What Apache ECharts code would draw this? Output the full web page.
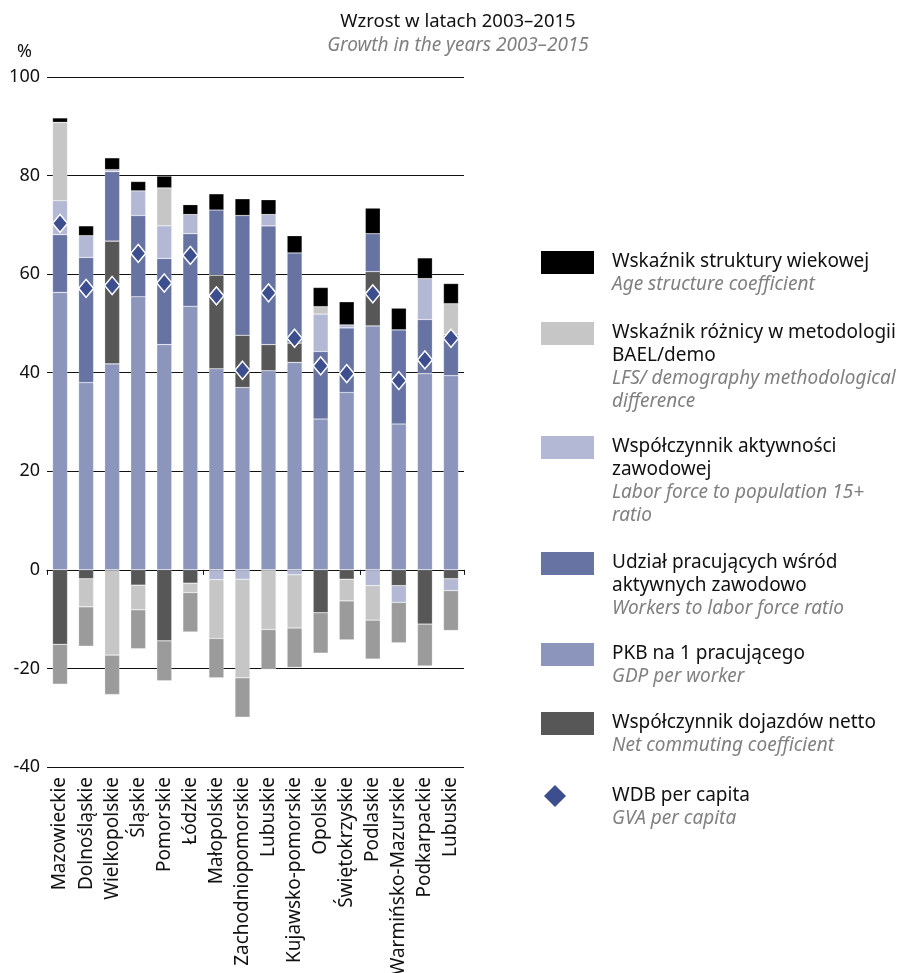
<!DOCTYPE html>
<html>
<head>
<meta charset="utf-8">
<script src="https://cdn.jsdelivr.net/npm/echarts@6/dist/echarts.min.js"></script>
<style>
html,body{margin:0;padding:0;background:#fff;}
#chart{width:904px;height:973px;}
</style>
</head>
<body>
<div id="chart"></div>
<script>
// ---- data ----
var categories = ['Mazowieckie','Dolnośląskie','Wielkopolskie','Śląskie','Pomorskie','Łódzkie','Małopolskie','Zachodniopomorskie','Lubuskie','Kujawsko-pomorskie','Opolskie','Świętokrzyskie','Podlaskie','Warmińsko-Mazurskie','Podkarpackie','Lubuskie'];
var gdpPerWorker   = [56.3, 38.0, 41.8, 55.4, 45.7, 53.5, 40.8, 37.0, 40.4, 42.1, 30.6, 36.0, 49.5, 29.6, 39.8, 39.4];
var commuting      = [-15.1, -1.8, 24.9, -3.1, -14.4, -2.7, 19.0, 10.6, 5.3, 3.9, -8.7, -1.9, 11.0, -3.2, -11.0, -1.8];
var workersShare   = [11.7, 25.4, 14.1, 16.5, 17.5, 14.7, 13.2, 24.3, 24.1, 18.3, 13.7, 13.1, 7.7, 19.1, 11.0, 8.3];
var activityRatio  = [6.9, 4.4, 0.4, 5.0, 6.6, 3.9, -2.0, -1.9, 2.3, -1.0, 7.6, 0.6, -3.2, -3.4, 8.3, -2.4];
var methodDiff     = [15.9, -5.7, -17.3, -5.0, 7.7, -1.9, -11.9, -20.0, -12.1, -10.8, 1.5, -4.4, -7.0, 0, 0, 6.3];
var ageStructure   = [0.9, 2.0, 2.4, 1.9, 2.4, 2.0, 3.3, 3.4, 3.0, 3.5, 3.9, 4.7, 5.2, 4.4, 4.2, 4.1];
var otherComponent = [-8.1, -8.0, -8.0, -7.9, -8.1, -8.0, -8.0, -8.0, -8.1, -8.0, -8.2, -7.9, -7.9, -8.2, -8.5, -8.1];
var gvaPerCapita   = [70.3, 57.1, 57.7, 64.2, 58.2, 63.8, 55.6, 40.5, 56.2, 47.0, 41.4, 39.8, 56.0, 38.4, 42.6, 47.0];
var yTicks = {min: -40, max: 100, interval: 20};

var legendPl = [
  ['Wskaźnik struktury wiekowej'],
  ['Wskaźnik różnicy w metodologii', 'BAEL/demo'],
  ['Współczynnik aktywności', 'zawodowej'],
  ['Udział pracujących wśród', 'aktywnych zawodowo'],
  ['PKB na 1 pracującego'],
  ['Współczynnik dojazdów netto'],
  ['WDB per capita']
];
var legendEn = [
  ['Age structure coefficient'],
  ['LFS/ demography methodological', 'difference'],
  ['Labor force to population 15+', 'ratio'],
  ['Workers to labor force ratio'],
  ['GDP per worker'],
  ['Net commuting coefficient'],
  ['GVA per capita']
];
var titlePl = 'Wzrost w latach 2003–2015';
var titleEn = 'Growth in the years 2003–2015';

// ---- styles ----
var C = {
  age: '#000000', method: '#c6c6c6', activity: '#b3b8d4', workers: '#6673a3',
  gdp: '#8c96bc', commuting: '#575757', other: '#9b9b9b', diamond: '#3d4e8e'
};
var FONT = '"Noto Sans", sans-serif';
var legendColors = [C.age, C.method, C.activity, C.workers, C.gdp, C.commuting, C.diamond];
var legendY = [262, 333, 447, 563, 654, 723, 796];

var chart = echarts.init(document.getElementById('chart'), null, {renderer: 'canvas'});

function bar(name, data, color) {
  return {
    name: name, type: 'bar', stack: 'total', data: data, barWidth: 15,
    xAxisIndex: 0,
    itemStyle: {color: color, borderColor: 'rgba(255,255,255,0.35)', borderWidth: 0.6},
    emphasis: {disabled: true}
  };
}

var graphics = [];
graphics.push({type: 'text', x: 17, y: 43, style: {text: '%', font: '18px ' + FONT, fill: '#111'}});
for (var i = 0; i < legendPl.length; i++) {
  var cy = legendY[i];
  if (i < 6) {
    graphics.push({type: 'rect', shape: {x: 541, y: cy - 11, width: 53, height: 23}, style: {fill: legendColors[i]}});
  } else {
    graphics.push({type: 'polygon', shape: {points: [[555, cy - 11], [566, cy], [555, cy + 11], [544, cy]]}, style: {fill: legendColors[i]}});
  }
  var parts = [];
  legendPl[i].forEach(function (t) { parts.push('{p|' + t + '}'); });
  legendEn[i].forEach(function (t) { parts.push('{e|' + t + '}'); });
  graphics.push({
    type: 'text', x: 612, y: cy - 11.5,
    style: {
      text: parts.join('\n'), verticalAlign: 'top',
      rich: {
        p: {fontFamily: FONT, fontSize: 19, lineHeight: 23, fill: '#111'},
        e: {fontFamily: FONT, fontSize: 19, fontStyle: 'italic', lineHeight: 23, fill: '#808080'}
      }
    }
  });
}

var option = {
  animation: false,
  backgroundColor: '#ffffff',
  title: {
    text: titlePl, subtext: titleEn, left: 453, top: 7, textAlign: 'center', itemGap: 5,
    textStyle: {fontFamily: FONT, fontSize: 18.5, fontWeight: 'normal', color: '#111'},
    subtextStyle: {fontFamily: FONT, fontSize: 19, fontStyle: 'italic', color: '#808080'}
  },
  grid: {left: 47, right: 440, top: 77, bottom: 206, containLabel: false, outerBoundsMode: 'none'},
  xAxis: [
    {
      type: 'category', data: categories, position: 'bottom',
      axisLine: {show: false, onZero: false}, axisTick: {show: false},
      axisLabel: {rotate: 90, margin: 10, fontFamily: FONT, fontSize: 19, color: '#111', interval: 0}
    },
    {
      type: 'category', data: categories, position: 'top',
      axisLine: {show: true, onZero: true, lineStyle: {color: '#111', width: 1.2}},
      axisTick: {show: true, inside: true, length: 5, lineStyle: {color: '#111'}},
      axisLabel: {show: false}
    }
  ],
  yAxis: {
    type: 'value', min: yTicks.min, max: yTicks.max, interval: yTicks.interval,
    axisLine: {show: false}, axisTick: {show: false},
    axisLabel: {margin: 7, fontFamily: FONT, fontSize: 18, color: '#111'},
    splitLine: {lineStyle: {color: '#111', width: 1}}
  },
  series: [
    bar('PKB na 1 pracującego', gdpPerWorker, C.gdp),
    bar('Współczynnik dojazdów netto', commuting, C.commuting),
    bar('Udział pracujących wśród aktywnych zawodowo', workersShare, C.workers),
    bar('Współczynnik aktywności zawodowej', activityRatio, C.activity),
    bar('Wskaźnik różnicy w metodologii BAEL/demo', methodDiff, C.method),
    bar('Wskaźnik struktury wiekowej', ageStructure, C.age),
    bar('Pozostałe', otherComponent, C.other),
    {
      name: 'WDB per capita', type: 'scatter', data: gvaPerCapita, xAxisIndex: 0,
      symbol: 'diamond', symbolSize: [15, 18], z: 10,
      itemStyle: {color: C.diamond, borderColor: '#ffffff', borderWidth: 1.5, opacity: 1},
      emphasis: {disabled: true}
    }
  ],
  graphic: graphics
};
chart.setOption(option);
</script>
</body>
</html>
